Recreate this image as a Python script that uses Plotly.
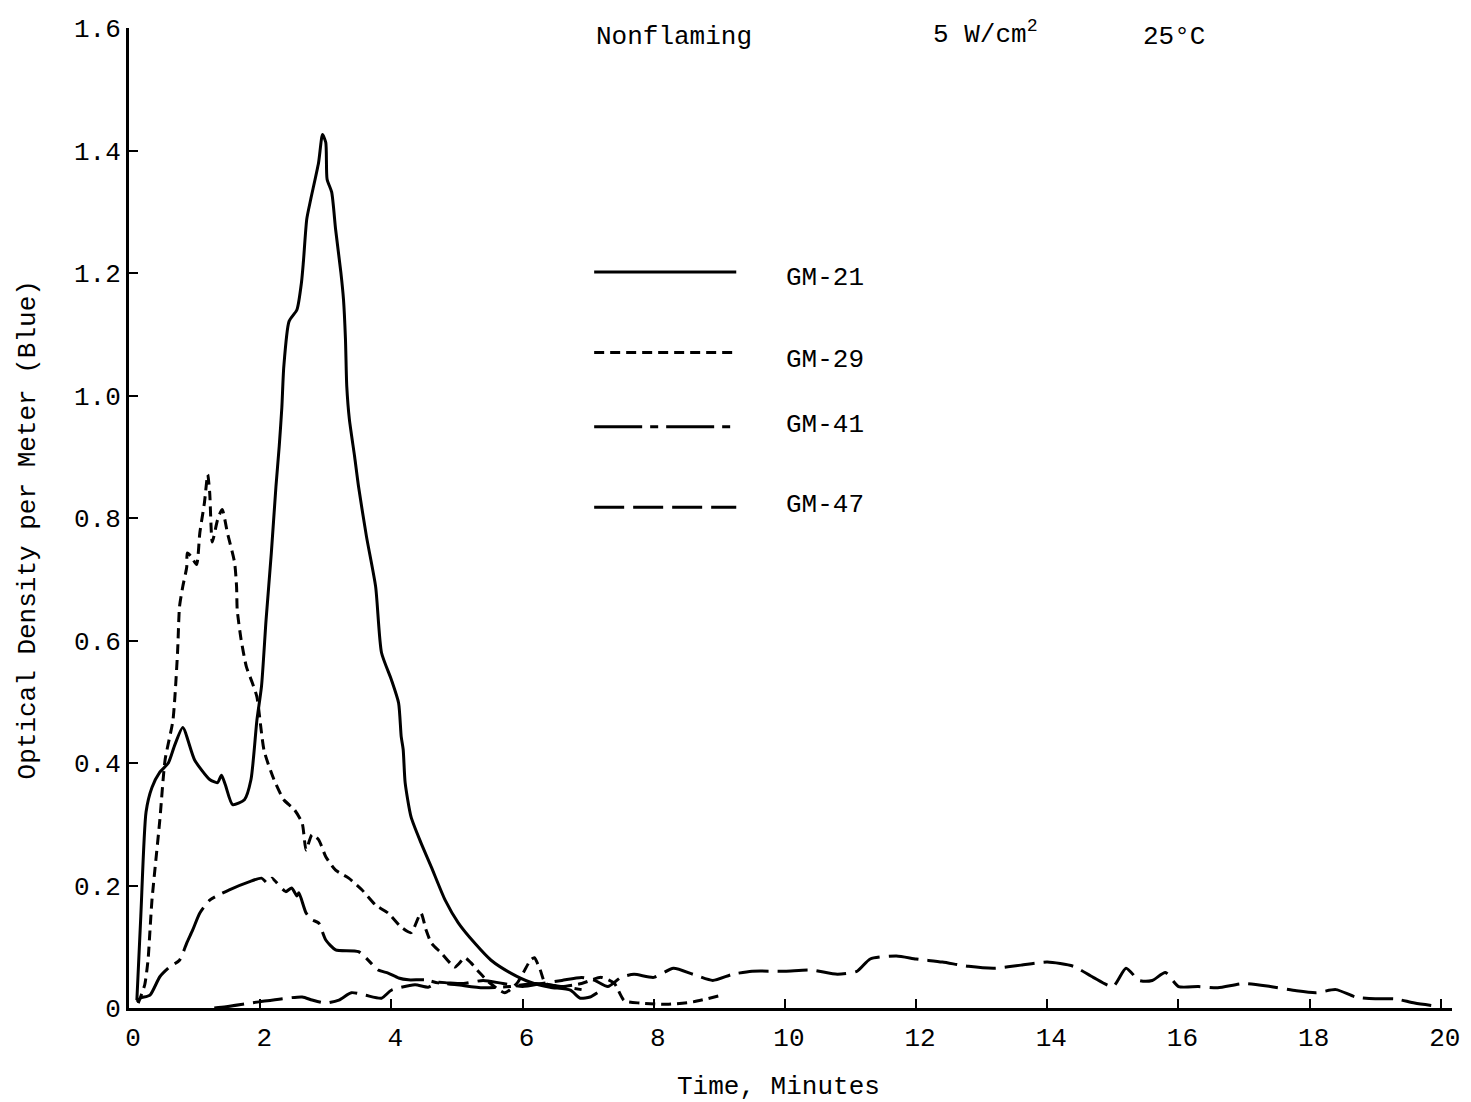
import plotly.graph_objects as go

FONT = "Liberation Mono"

# ---------------- data ----------------
gm21_x = [0.12, 0.18, 0.26, 0.35, 0.47, 0.60, 0.70, 0.82, 1.0, 1.23, 1.35, 1.41, 1.47, 1.58, 1.76, 1.86,
          1.95, 2.02, 2.09, 2.17, 2.24, 2.29, 2.33, 2.36, 2.44, 2.56, 2.63, 2.66, 2.71, 2.77, 2.89, 2.95,
          3.0, 3.02, 3.09, 3.15, 3.23, 3.27, 3.30, 3.32, 3.36, 3.44, 3.5, 3.62, 3.76, 3.85, 4.0, 4.11,
          4.15, 4.18, 4.21, 4.3, 4.45, 4.61, 4.82, 5.02, 5.27, 5.52, 5.82, 6.12, 6.42, 6.73, 6.88, 7.03, 7.14]
gm21_y = [0.013, 0.15, 0.32, 0.36, 0.385, 0.40, 0.43, 0.458, 0.405, 0.373, 0.368, 0.38, 0.364, 0.332, 0.34, 0.373,
          0.47, 0.525, 0.634, 0.743, 0.851, 0.917, 0.98, 1.047, 1.121, 1.14, 1.185, 1.22, 1.288, 1.32, 1.38, 1.426,
          1.413, 1.353, 1.332, 1.271, 1.201, 1.157, 1.092, 1.015, 0.961, 0.9, 0.851, 0.77, 0.688, 0.58, 0.536, 0.498,
          0.443, 0.422, 0.368, 0.312, 0.27, 0.23, 0.176, 0.139, 0.106, 0.078, 0.057, 0.042, 0.034, 0.029, 0.016, 0.018, 0.025]

gm29_x = [0.14, 0.17, 0.24, 0.29, 0.32, 0.35, 0.47, 0.55, 0.67, 0.74, 0.77, 0.82, 0.88, 0.89, 0.95, 1.03,
          1.08, 1.15, 1.2, 1.23, 1.27, 1.35, 1.42, 1.5, 1.61, 1.64, 1.65, 1.71, 1.79, 1.88, 1.95, 2.06,
          2.21, 2.36, 2.52, 2.64, 2.7, 2.79, 2.89, 3.0, 3.15, 3.35, 3.55, 3.76, 3.95, 4.15, 4.3, 4.45,
          4.53, 4.61, 4.76, 4.97, 5.12, 5.21, 5.35, 5.5, 5.73, 5.92, 6.12, 6.18, 6.27, 6.35, 6.6, 6.9,
          7.2, 7.4, 7.55, 7.8, 8.2, 8.6, 9.0]
gm29_y = [0.008, 0.016, 0.038, 0.078, 0.127, 0.176, 0.307, 0.405, 0.47, 0.58, 0.655, 0.688, 0.72, 0.743, 0.737, 0.724,
          0.776, 0.825, 0.871, 0.842, 0.761, 0.797, 0.814, 0.776, 0.727, 0.688, 0.65, 0.601, 0.557, 0.531, 0.508, 0.42,
          0.373, 0.34, 0.324, 0.302, 0.258, 0.283, 0.275, 0.247, 0.225, 0.212, 0.193, 0.168, 0.155, 0.132, 0.123, 0.155,
          0.127, 0.106, 0.09, 0.067, 0.082, 0.074, 0.057, 0.041, 0.025, 0.041, 0.078, 0.082, 0.062, 0.04, 0.035, 0.04,
          0.05, 0.04, 0.012, 0.008, 0.006, 0.01, 0.02]

gm41_x = [0.12, 0.17, 0.32, 0.47, 0.62, 0.77, 0.88, 0.97, 1.08, 1.23, 1.53, 1.83, 2.02, 2.11, 2.18, 2.29,
          2.39, 2.48, 2.56, 2.59, 2.7, 2.79, 2.89, 3.0, 3.15, 3.5, 3.8, 3.95, 4.11, 4.26, 4.52, 4.71,
          5.0, 5.4, 5.8, 6.2, 6.6, 6.9]
gm41_y = [0.01, 0.016, 0.021, 0.051, 0.067, 0.078, 0.106, 0.127, 0.155, 0.176, 0.193, 0.206, 0.212, 0.204, 0.212, 0.2,
          0.19, 0.196, 0.183, 0.188, 0.155, 0.144, 0.139, 0.111, 0.095, 0.092, 0.062, 0.057, 0.049, 0.046, 0.046, 0.041,
          0.038, 0.033, 0.035, 0.04, 0.035, 0.03]

gm47_x = [1.3, 1.48, 1.98, 2.64, 2.79, 3.0, 3.2, 3.39, 3.6, 3.85, 4.0, 4.36, 4.56, 4.71, 4.86, 5.1,
          5.4, 5.7, 6.0, 6.3, 6.6, 6.9, 7.1, 7.3, 7.5, 7.7, 8.0, 8.3, 8.6, 8.9, 9.2, 9.5,
          10.0, 10.4, 10.8, 11.1, 11.3, 11.7, 12.0, 12.4, 12.8, 13.2, 13.6, 14.0, 14.4, 14.7, 15.0, 15.2,
          15.4, 15.6, 15.8, 16.0, 16.3, 16.6, 17.0, 17.4, 17.8, 18.1, 18.4, 18.7, 19.0, 19.3, 19.6, 20.0]
gm47_y = [0.0, 0.002, 0.01, 0.018, 0.013, 0.008, 0.013, 0.025, 0.021, 0.016, 0.029, 0.038, 0.034, 0.042, 0.041, 0.04,
          0.045, 0.04, 0.035, 0.04, 0.045, 0.05, 0.045, 0.035, 0.05, 0.055, 0.05, 0.065, 0.055, 0.045, 0.055, 0.06,
          0.06, 0.062, 0.055, 0.06, 0.08, 0.085, 0.08, 0.075, 0.068, 0.065, 0.07, 0.075, 0.068, 0.05, 0.035, 0.065,
          0.045, 0.045, 0.058, 0.035, 0.035, 0.033, 0.04, 0.035, 0.028, 0.025, 0.03, 0.018, 0.015, 0.015, 0.008, 0.002]

series_names = ["GM-21", "GM-29", "GM-41", "GM-47"]
series_dash = ["solid", "10px,6px", "48px,8px,8px,8px", "30px,9px"]

x_ticks = [0, 2, 4, 6, 8, 10, 12, 14, 16, 18, 20]
y_ticks = [0, 0.2, 0.4, 0.6, 0.8, 1.0, 1.2, 1.4, 1.6]
y_tick_text = ["0", "0.2", "0.4", "0.6", "0.8", "1.0", "1.2", "1.4", "1.6"]

# ---------------- figure ----------------
fig = go.Figure()
data = [(gm21_x, gm21_y), (gm29_x, gm29_y), (gm41_x, gm41_y), (gm47_x, gm47_y)]
for (xs, ys), name, dash in zip(data, series_names, series_dash):
    fig.add_trace(go.Scatter(x=xs, y=ys, mode="lines", name=name,
                             line=dict(color="black", width=3, dash=dash, shape="spline", smoothing=0.6),
                             showlegend=False))

# hand-drawn style legend (samples + labels)
leg_y = [0.751, 0.669, 0.593, 0.511]
leg_ty = [0.745, 0.661, 0.595, 0.513]
for name, dash, ly, ty in zip(series_names, series_dash, leg_y, leg_ty):
    fig.add_shape(type="line", xref="paper", yref="paper", x0=0.3516, x1=0.459, y0=ly, y1=ly,
                  line=dict(color="black", width=3, dash=dash))
    fig.add_annotation(text=name, xref="paper", yref="paper", x=0.495, y=ty, xanchor="left",
                       yanchor="middle", showarrow=False, font=dict(family=FONT, size=26, color="black"))

# header texts
fig.add_annotation(text="Nonflaming", xref="paper", yref="paper", x=0.3516, y=0.991, xanchor="left",
                   yanchor="middle", showarrow=False, font=dict(family=FONT, size=26, color="black"))
fig.add_annotation(text="5 W/cm<sup>2</sup>", xref="paper", yref="paper", x=0.606, y=0.995, xanchor="left",
                   yanchor="middle", showarrow=False, font=dict(family=FONT, size=26, color="black"))
fig.add_annotation(text="25°C", xref="paper", yref="paper", x=0.765, y=0.991, xanchor="left",
                   yanchor="middle", showarrow=False, font=dict(family=FONT, size=26, color="black"))

# axis titles
fig.add_annotation(text="Time, Minutes", xref="paper", yref="paper", x=0.491, y=-0.081, xanchor="center",
                   yanchor="middle", showarrow=False, font=dict(family=FONT, size=26, color="black"))
fig.add_annotation(text="Optical Density per Meter (Blue)", xref="paper", yref="paper", x=-0.0766, y=0.488,
                   textangle=-90, xanchor="center", yanchor="middle", showarrow=False,
                   font=dict(family=FONT, size=26, color="black"))

fig.update_layout(
    width=1471, height=1102,
    margin=dict(l=129, r=11, t=28, b=94),
    paper_bgcolor="white", plot_bgcolor="white",
    font=dict(family=FONT, size=26, color="black"),
    xaxis=dict(range=[0, 20.17], tickvals=x_ticks, ticktext=[str(v) for v in x_ticks],
               ticks="inside", ticklen=9, tickwidth=2, tickcolor="black", ticklabelshift=4,
               ticklabelstandoff=4,
               showline=True, linecolor="black", linewidth=3, showgrid=False, zeroline=False,
               tickfont=dict(family=FONT, size=26, color="black")),
    yaxis=dict(range=[0, 1.6], tickvals=y_ticks, ticktext=y_tick_text,
               ticks="inside", ticklen=9, tickwidth=2, tickcolor="black",
               showline=True, linecolor="black", linewidth=3, showgrid=False, zeroline=False,
               tickfont=dict(family=FONT, size=26, color="black")),
)

fig.write_html("out.html")
